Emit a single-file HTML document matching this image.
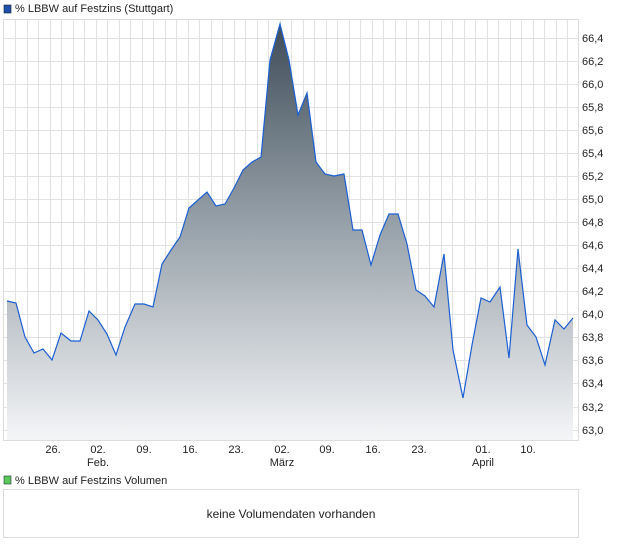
<!DOCTYPE html>
<html><head><meta charset="utf-8"><style>
body{margin:0;background:#fff;width:620px;height:546px;overflow:hidden;font-family:"Liberation Sans",sans-serif;}
</style></head><body>
<svg width="620" height="546" xmlns="http://www.w3.org/2000/svg" font-family="Liberation Sans, sans-serif">
<defs>
<linearGradient id="g" x1="0" y1="0" x2="0" y2="1">
<stop offset="0" stop-color="#3f4d59"/>
<stop offset="0.5" stop-color="#9aa4ac"/>
<stop offset="1" stop-color="#f4f5f7"/>
</linearGradient>
</defs>
<rect x="4" y="5" width="7" height="8" fill="#1f4fa8" stroke="#123" stroke-width="0.6"/>
<text x="15" y="12" font-size="11" fill="#222">%  LBBW auf Festzins (Stuttgart)</text>
<g stroke="#dcdcdc" stroke-width="1">
<rect x="3.5" y="19.5" width="575" height="421" fill="#fff"/>
</g>
<g id="vg" stroke="#e2e2e2" stroke-width="1"></g>
<g stroke="#e2e2e2" stroke-width="1">
<line x1="4" x2="578" y1="38.5" y2="38.5"/><line x1="4" x2="578" y1="61.5" y2="61.5"/><line x1="4" x2="578" y1="84.5" y2="84.5"/><line x1="4" x2="578" y1="107.5" y2="107.5"/><line x1="4" x2="578" y1="130.5" y2="130.5"/><line x1="4" x2="578" y1="153.5" y2="153.5"/><line x1="4" x2="578" y1="176.5" y2="176.5"/><line x1="4" x2="578" y1="199.5" y2="199.5"/><line x1="4" x2="578" y1="222.5" y2="222.5"/><line x1="4" x2="578" y1="245.5" y2="245.5"/><line x1="4" x2="578" y1="268.5" y2="268.5"/><line x1="4" x2="578" y1="291.5" y2="291.5"/><line x1="4" x2="578" y1="314.5" y2="314.5"/><line x1="4" x2="578" y1="337.5" y2="337.5"/><line x1="4" x2="578" y1="360.5" y2="360.5"/><line x1="4" x2="578" y1="383.5" y2="383.5"/><line x1="4" x2="578" y1="407.5" y2="407.5"/><line x1="4" x2="578" y1="430.5" y2="430.5"/>
<line x1="15.5" x2="15.5" y1="20" y2="440"/><line x1="27.5" x2="27.5" y1="20" y2="440"/><line x1="38.5" x2="38.5" y1="20" y2="440"/><line x1="50.5" x2="50.5" y1="20" y2="440"/><line x1="61.5" x2="61.5" y1="20" y2="440"/><line x1="73.5" x2="73.5" y1="20" y2="440"/><line x1="84.5" x2="84.5" y1="20" y2="440"/><line x1="96.5" x2="96.5" y1="20" y2="440"/><line x1="107.5" x2="107.5" y1="20" y2="440"/><line x1="119.5" x2="119.5" y1="20" y2="440"/><line x1="130.5" x2="130.5" y1="20" y2="440"/><line x1="142.5" x2="142.5" y1="20" y2="440"/><line x1="153.5" x2="153.5" y1="20" y2="440"/><line x1="165.5" x2="165.5" y1="20" y2="440"/><line x1="176.5" x2="176.5" y1="20" y2="440"/><line x1="188.5" x2="188.5" y1="20" y2="440"/><line x1="199.5" x2="199.5" y1="20" y2="440"/><line x1="211.5" x2="211.5" y1="20" y2="440"/><line x1="222.5" x2="222.5" y1="20" y2="440"/><line x1="234.5" x2="234.5" y1="20" y2="440"/><line x1="245.5" x2="245.5" y1="20" y2="440"/><line x1="257.5" x2="257.5" y1="20" y2="440"/><line x1="268.5" x2="268.5" y1="20" y2="440"/><line x1="280.5" x2="280.5" y1="20" y2="440"/><line x1="291.5" x2="291.5" y1="20" y2="440"/><line x1="303.5" x2="303.5" y1="20" y2="440"/><line x1="314.5" x2="314.5" y1="20" y2="440"/><line x1="326.5" x2="326.5" y1="20" y2="440"/><line x1="337.5" x2="337.5" y1="20" y2="440"/><line x1="349.5" x2="349.5" y1="20" y2="440"/><line x1="360.5" x2="360.5" y1="20" y2="440"/><line x1="372.5" x2="372.5" y1="20" y2="440"/><line x1="383.5" x2="383.5" y1="20" y2="440"/><line x1="395.5" x2="395.5" y1="20" y2="440"/><line x1="406.5" x2="406.5" y1="20" y2="440"/><line x1="418.5" x2="418.5" y1="20" y2="440"/><line x1="429.5" x2="429.5" y1="20" y2="440"/><line x1="441.5" x2="441.5" y1="20" y2="440"/><line x1="452.5" x2="452.5" y1="20" y2="440"/><line x1="464.5" x2="464.5" y1="20" y2="440"/><line x1="475.5" x2="475.5" y1="20" y2="440"/><line x1="487.5" x2="487.5" y1="20" y2="440"/><line x1="498.5" x2="498.5" y1="20" y2="440"/><line x1="510.5" x2="510.5" y1="20" y2="440"/><line x1="521.5" x2="521.5" y1="20" y2="440"/><line x1="533.5" x2="533.5" y1="20" y2="440"/><line x1="544.5" x2="544.5" y1="20" y2="440"/><line x1="556.5" x2="556.5" y1="20" y2="440"/><line x1="567.5" x2="567.5" y1="20" y2="440"/>
</g>
<path fill="url(#g)" d="M7,301 L16,303 L25,337 L34,353 L43,349 L52,360 L61,333 L71,341 L80,341 L89,311 L98,320 L107,334 L116,355 L125,327 L135,304 L144,304 L153,307 L162,264 L171,250 L180,237 L189,208 L198,200 L207,192 L216,206 L225,204 L234,188 L243,170 L252,162 L261,157 L270,60 L280,24 L289,60 L298,115 L307,93 L316,162 L325,174 L334,176 L344,174 L353,230 L362,230 L371,265 L380,235 L389,214 L398,214 L407,244 L416,290 L425,296 L434,307 L444,254 L453,350 L463,398 L472,345 L481,298 L490,302 L500,287 L509,358 L518,249 L527,325 L536,337 L545,365 L555,320 L564,329 L573,318 L573,440 L7,440 Z"/>
<polyline fill="none" stroke="#1b5fd2" stroke-width="1.2" points="7,301 16,303 25,337 34,353 43,349 52,360 61,333 71,341 80,341 89,311 98,320 107,334 116,355 125,327 135,304 144,304 153,307 162,264 171,250 180,237 189,208 198,200 207,192 216,206 225,204 234,188 243,170 252,162 261,157 270,60 280,24 289,60 298,115 307,93 316,162 325,174 334,176 344,174 353,230 362,230 371,265 380,235 389,214 398,214 407,244 416,290 425,296 434,307 444,254 453,350 463,398 472,345 481,298 490,302 500,287 509,358 518,249 527,325 536,337 545,365 555,320 564,329 573,318"/>
<g font-size="11" fill="#222">
<text x="582" y="42">66,4</text><text x="582" y="65">66,2</text><text x="582" y="88">66,0</text><text x="582" y="111">65,8</text><text x="582" y="134">65,6</text><text x="582" y="157">65,4</text><text x="582" y="180">65,2</text><text x="582" y="203">65,0</text><text x="582" y="226">64,8</text><text x="582" y="249">64,6</text><text x="582" y="272">64,4</text><text x="582" y="295">64,2</text><text x="582" y="318">64,0</text><text x="582" y="341">63,8</text><text x="582" y="364">63,6</text><text x="582" y="387">63,4</text><text x="582" y="411">63,2</text><text x="582" y="434">63,0</text>
</g>
<g font-size="11" fill="#222" text-anchor="middle">
<text x="53" y="453">26.</text><text x="98" y="453">02.</text><text x="144" y="453">09.</text><text x="190" y="453">16.</text><text x="236" y="453">23.</text><text x="282" y="453">02.</text><text x="327" y="453">09.</text><text x="373" y="453">16.</text><text x="419" y="453">23.</text><text x="483" y="453">01.</text><text x="528" y="453">10.</text>
<text x="98" y="466">Feb.</text><text x="282" y="466">März</text><text x="483" y="466">April</text>
</g>
<rect x="4" y="476" width="7" height="8" fill="#5cc65c" stroke="#234" stroke-width="0.6"/>
<text x="15" y="484" font-size="11" fill="#222">%  LBBW auf Festzins Volumen</text>
<rect x="3.5" y="489.5" width="575" height="48" fill="#fff" stroke="#dcdcdc"/>
<text x="291" y="518" font-size="12" fill="#222" text-anchor="middle">keine Volumendaten vorhanden</text>
</svg>
</body></html>
